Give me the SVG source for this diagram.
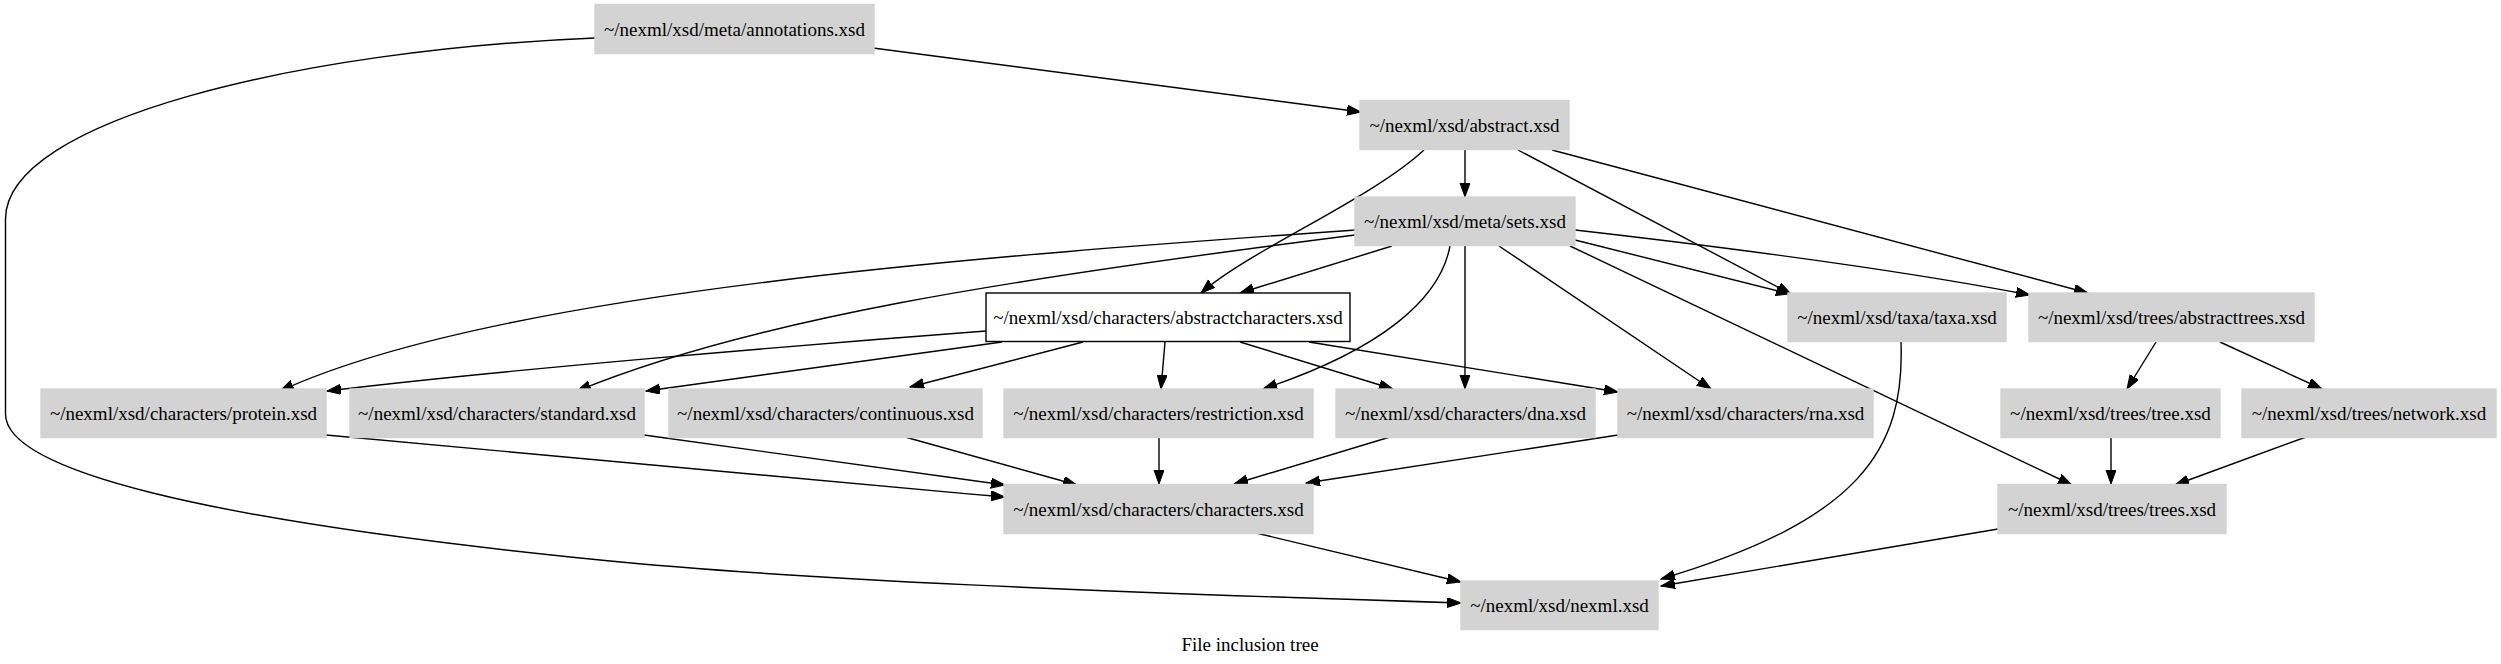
<svg xmlns="http://www.w3.org/2000/svg" width="2501" height="664" viewBox="0 0 2501 664">
<style>
.n rect{fill:#d3d3d3;stroke:#d3d3d3;stroke-width:1.4}
.n rect.w{fill:#fff;stroke:#000}
text{font-family:"Liberation Serif","Times New Roman",serif;font-size:19px;fill:#000;text-anchor:middle}
#edges path{fill:none;stroke:#000;stroke-width:1.4;marker-end:url(#arr)}
</style>
<defs>
<marker id="arr" markerUnits="userSpaceOnUse" markerWidth="15" markerHeight="11" refX="14" refY="5" orient="auto" viewBox="0 0 15 11">
<path d="M0,0 L14,5 L0,10 z" fill="#000" stroke="#000" stroke-width="1"/>
</marker>
</defs>
<rect width="2501" height="664" fill="#fff"/>
<g id="edges">
<path d="M873,48 L1361,112"/>
<path d="M595,38 C300,50 5.5,120 5.5,219 L5.5,414 C5.5,470 200,520 600,560 C800,580 1100,592 1461,603"/>
<path d="M1465,150 L1465,197"/>
<path d="M1424,150 C1370,200 1250,250 1201,293"/>
<path d="M1518,150 L1791,294"/>
<path d="M1552,150 L2088,293"/>
<path d="M1392,246 L1240,293"/>
<path d="M1355,230 C1000,255 500,290 280,391"/>
<path d="M1355,235 C1000,280 750,320 577,391"/>
<path d="M1450,246 C1440,300 1380,350 1263,389"/>
<path d="M1465,246 L1465,389"/>
<path d="M1499,246 L1711,389"/>
<path d="M1575,240 L1790,294"/>
<path d="M1575,230 C1750,250 1900,270 2030,295"/>
<path d="M1570,246 L2072,485"/>
<path d="M986,331 C800,345 500,370 327,391"/>
<path d="M1002,342 L646,391"/>
<path d="M1083,342 L910,387"/>
<path d="M1165,342 L1161,389"/>
<path d="M1240,342 L1393,389"/>
<path d="M1309,342 L1618,392"/>
<path d="M326,435 C600,460 800,480 1005,497"/>
<path d="M644,435 L1005,485"/>
<path d="M905,437 L1077,485"/>
<path d="M1159,438 L1159,484"/>
<path d="M1390,437 L1234,484"/>
<path d="M1618,435 L1306,483"/>
<path d="M1256,533 L1461,582"/>
<path d="M1901,342 C1905,450 1860,520 1661,579"/>
<path d="M1998,529 L1661,586"/>
<path d="M2156,342 L2127,389"/>
<path d="M2220,342 L2322,389"/>
<path d="M2111,438 L2111,484"/>
<path d="M2306,437 L2175,485"/>
</g>
<g id="annotations" class="n"><rect x="595" y="4.5" width="279" height="49"/><text x="734.5" y="35.5">~/nexml/xsd/meta/annotations.xsd</text></g>
<g id="abstract" class="n"><rect x="1360" y="100.5" width="209" height="49"/><text x="1464.5" y="131.5">~/nexml/xsd/abstract.xsd</text></g>
<g id="sets" class="n"><rect x="1355" y="197" width="220" height="48.5"/><text x="1465" y="227.5">~/nexml/xsd/meta/sets.xsd</text></g>
<g id="abstractcharacters" class="n"><rect class="w" x="986" y="293" width="364" height="48.5"/><text x="1168" y="323.5">~/nexml/xsd/characters/abstractcharacters.xsd</text></g>
<g id="taxa" class="n"><rect x="1788" y="293" width="218" height="48.5"/><text x="1897" y="323.5">~/nexml/xsd/taxa/taxa.xsd</text></g>
<g id="abstracttrees" class="n"><rect x="2029" y="293" width="285" height="48.5"/><text x="2171.5" y="323.5">~/nexml/xsd/trees/abstracttrees.xsd</text></g>
<g id="protein" class="n"><rect x="41" y="389" width="285" height="48.5"/><text x="183.5" y="419.5">~/nexml/xsd/characters/protein.xsd</text></g>
<g id="standard" class="n"><rect x="350" y="389" width="294" height="48.5"/><text x="497" y="419.5">~/nexml/xsd/characters/standard.xsd</text></g>
<g id="continuous" class="n"><rect x="669" y="389" width="313" height="48.5"/><text x="825.5" y="419.5">~/nexml/xsd/characters/continuous.xsd</text></g>
<g id="restriction" class="n"><rect x="1004" y="389" width="309" height="48.5"/><text x="1158.5" y="419.5">~/nexml/xsd/characters/restriction.xsd</text></g>
<g id="dna" class="n"><rect x="1336" y="389" width="259" height="48.5"/><text x="1465.5" y="419.5">~/nexml/xsd/characters/dna.xsd</text></g>
<g id="rna" class="n"><rect x="1618" y="389" width="255" height="48.5"/><text x="1745.5" y="419.5">~/nexml/xsd/characters/rna.xsd</text></g>
<g id="tree" class="n"><rect x="2001" y="389" width="219" height="48.5"/><text x="2110.5" y="419.5">~/nexml/xsd/trees/tree.xsd</text></g>
<g id="network" class="n"><rect x="2242" y="389" width="254" height="48.5"/><text x="2369" y="419.5">~/nexml/xsd/trees/network.xsd</text></g>
<g id="characters" class="n"><rect x="1004" y="484.5" width="309" height="49"/><text x="1158.5" y="515.5">~/nexml/xsd/characters/characters.xsd</text></g>
<g id="trees" class="n"><rect x="1998" y="484.5" width="228" height="49"/><text x="2112" y="515.5">~/nexml/xsd/trees/trees.xsd</text></g>
<g id="nexml" class="n"><rect x="1461" y="581" width="197" height="48.5"/><text x="1559.5" y="611.5">~/nexml/xsd/nexml.xsd</text></g>
<text x="1250" y="651">File inclusion tree</text>
</svg>
